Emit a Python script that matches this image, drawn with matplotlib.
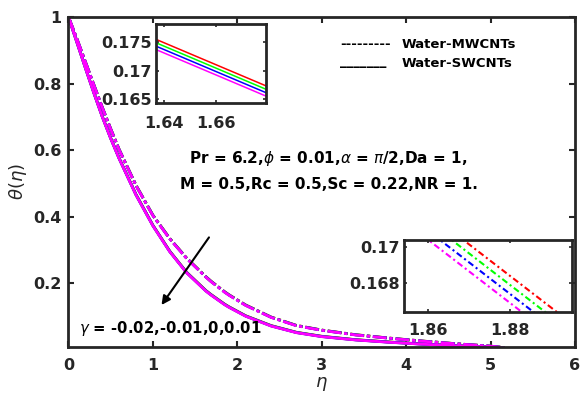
import numpy as np
import matplotlib
matplotlib.use('Agg')
import matplotlib.pyplot as plt

# eta grid (shared by all curves)
eta = [0, 0.1, 0.2, 0.3, 0.4, 0.5, 0.6, 0.8, 1.0, 1.2, 1.4, 1.63, 1.69, 1.85, 1.90,
       2.1, 2.4, 2.7, 3.0, 3.4, 3.8, 4.2, 4.6, 5.0, 5.15]

gammas = ['-0.02', '-0.01', '0', '0.01']
colors = ['#ff0000', '#00ff00', '#0000ff', '#ff00ff']

# Water-SWCNTs (solid)
sw_m002 = [1.0, 0.9241, 0.8476, 0.7728, 0.7012, 0.6360, 0.5755, 0.4662, 0.3737, 0.2957, 0.2322,
           0.17687, 0.16517, 0.1364, 0.1287, 0.1014, 0.0720, 0.0518, 0.0398, 0.0296, 0.0226,
           0.0164, 0.0114, 0.0082, 0.0052]
sw_m001 = [1.0, 0.9240, 0.8474, 0.7725, 0.7008, 0.6355, 0.5750, 0.4656, 0.3731, 0.2951, 0.2316,
           0.17627, 0.16457, 0.1358, 0.1281, 0.1009, 0.0715, 0.0514, 0.0394, 0.0293, 0.0223,
           0.0162, 0.0112, 0.0081, 0.0051]
sw_0 = [1.0, 0.9239, 0.8472, 0.7722, 0.7004, 0.6350, 0.5745, 0.4650, 0.3725, 0.2945, 0.2310,
        0.17567, 0.16397, 0.1352, 0.1275, 0.1004, 0.0710, 0.0510, 0.0390, 0.0290, 0.0220,
        0.0160, 0.0110, 0.0080, 0.0050]
sw_p001 = [1.0, 0.9238, 0.8470, 0.7719, 0.7000, 0.6345, 0.5740, 0.4644, 0.3719, 0.2939, 0.2304,
           0.17507, 0.16337, 0.1346, 0.1269, 0.0999, 0.0705, 0.0506, 0.0386, 0.0287, 0.0217,
           0.0158, 0.0108, 0.0079, 0.0049]

# Water-MWCNTs (dash-dot)
mw_m002 = [1.0, 0.9342, 0.8654, 0.7966, 0.7286, 0.6638, 0.6018, 0.4940, 0.4040, 0.3340, 0.2750,
           0.2185, 0.2052, 0.17366, 0.16489, 0.1338, 0.0977, 0.0726, 0.0586, 0.0446, 0.0344,
           0.0254, 0.0172, 0.0102, 0.0062]
mw_m001 = [1.0, 0.9341, 0.8652, 0.7963, 0.7283, 0.6634, 0.6014, 0.4935, 0.4035, 0.3335, 0.2745,
           0.2180, 0.2047, 0.17316, 0.16439, 0.1333, 0.0973, 0.0722, 0.0583, 0.0443, 0.0342,
           0.0252, 0.0171, 0.0101, 0.0061]
mw_0 = [1.0, 0.934, 0.865, 0.796, 0.728, 0.663, 0.601, 0.493, 0.403, 0.333, 0.274,
        0.2175, 0.2042, 0.17266, 0.16389, 0.1328, 0.0969, 0.0718, 0.0580, 0.0440, 0.0340,
        0.0250, 0.0170, 0.0100, 0.0060]
mw_p001 = [1.0, 0.9339, 0.8648, 0.7957, 0.7277, 0.6626, 0.6006, 0.4925, 0.4025, 0.3325, 0.2735,
           0.2170, 0.2037, 0.17216, 0.16339, 0.1323, 0.0965, 0.0714, 0.0577, 0.0437, 0.0338,
           0.0248, 0.0169, 0.0099, 0.0059]

solid = [sw_m002, sw_m001, sw_0, sw_p001]
dashed = [mw_m002, mw_m001, mw_0, mw_p001]

xticks_main = [0, 1, 2, 3, 4, 5, 6]
yticks_main = [0.2, 0.4, 0.6, 0.8, 1]

plt.rcParams['font.family'] = 'DejaVu Sans'
plt.rcParams['font.weight'] = 'normal'
plt.rcParams['mathtext.fontset'] = 'custom'
plt.rcParams['mathtext.it'] = 'DejaVu Sans:italic:normal'
plt.rcParams['mathtext.rm'] = 'DejaVu Sans:normal'
dark = '#262626'
mw_dash = (0, (5, 1, 1.2, 1))

fig = plt.figure(figsize=(5.8, 4.08), dpi=100)
ax = fig.add_axes([0.1181, 0.1495, 0.8733, 0.8088])

for ys, yd, c in zip(solid, dashed, colors):
    ax.plot(eta, ys, '-', color=c, lw=2)
    ax.plot(eta, yd, linestyle=mw_dash, color=c, lw=2)

ax.set_xlim(0, 6)
ax.set_ylim(0.0075, 1)
ax.set_xticks(xticks_main)
ax.set_yticks(yticks_main)
ax.set_xticklabels([str(v) for v in xticks_main])
ax.set_yticklabels(['0.2', '0.4', '0.6', '0.8', '1'])
ax.tick_params(direction='in', top=True, right=True, length=4, width=1.5,
               labelsize=11.5, colors=dark)
ax.tick_params(axis='x', pad=8)
ax.tick_params(axis='y', pad=5)
for s in ax.spines.values():
    s.set_linewidth(2)
    s.set_color(dark)
for lab in ax.get_xticklabels() + ax.get_yticklabels():
    lab.set_fontweight('bold')

ax.set_xlabel(r'$\eta$', fontsize=13, color=dark, labelpad=1)
ax.set_ylabel(r'$\theta(\eta)$', fontsize=13, color=dark, labelpad=3)

# text legend
ax.text(3.214, 0.906, '---------', fontsize=9.5, fontweight='bold', va='baseline')
ax.text(3.947, 0.906, 'Water-MWCNTs', fontsize=9.5, fontweight='bold', va='baseline')
ax.text(3.214, 0.855, '_______', fontsize=9.5, fontweight='bold', va='baseline')
ax.text(3.947, 0.849, 'Water-SWCNTs', fontsize=9.5, fontweight='bold', va='baseline')

ax.text(3.08, 0.575, r'Pr = 6.2,$\phi$ = 0.01,$\alpha$ = $\pi$/2,Da = 1,', fontsize=11,
        fontweight='bold', ha='center', va='center')
ax.text(3.08, 0.497, r'M = 0.5,Rc = 0.5,Sc = 0.22,NR = 1.', fontsize=11,
        fontweight='bold', ha='center', va='center')
ax.text(0.13, 0.064, r'$\gamma$ = -0.02,-0.01,0,0.01', fontsize=10.7,
        fontweight='bold', ha='left', va='center')

ax.annotate('', xy=(1.083, 0.127), xytext=(1.683, 0.344),
            arrowprops=dict(arrowstyle='-|>', color='k', lw=1.5, mutation_scale=13))

# inset 1 : SWCNTs
ins1 = fig.add_axes([0.269, 0.7475, 0.1897, 0.1936])
for ys, c in zip(solid, colors):
    ins1.plot(eta, ys, '-', color=c, lw=1.1)
ins1.set_xlim(1.637, 1.679)
ins1.set_ylim(0.1643, 0.1782)
ins1.set_xticks([1.64, 1.66])
ins1.set_xticklabels(['1.64', '1.66'])
ins1.set_yticks([0.165, 0.17, 0.175])
ins1.set_yticklabels(['0.165', '0.17', '0.175'])
ins1.tick_params(direction='in', top=True, right=True, length=2.5, width=1.2,
                 labelsize=11.5, colors=dark)
ins1.tick_params(axis='x', pad=9)
ins1.tick_params(axis='y', pad=3)

# inset 2 : MWCNTs
ins2 = fig.add_axes([0.6966, 0.2353, 0.2897, 0.1765])
for yd, c in zip(dashed, colors):
    ins2.plot(eta, yd, linestyle=(0, (3, 1.5, 1, 1.5)), color=c, lw=1.5)
ins2.set_xlim(1.8541, 1.8951)
ins2.set_ylim(0.1664, 0.1704)
ins2.set_xticks([1.86, 1.88])
ins2.set_xticklabels(['1.86', '1.88'])
ins2.set_yticks([0.168, 0.17])
ins2.set_yticklabels(['0.168', '0.17'])
ins2.tick_params(direction='in', top=True, right=True, length=2.5, width=1.2,
                 labelsize=11.5, colors=dark)
ins2.tick_params(axis='x', pad=8)
ins2.tick_params(axis='y', pad=3)

for a in (ins1, ins2):
    for s in a.spines.values():
        s.set_linewidth(2)
        s.set_color(dark)
    for lab in a.get_xticklabels() + a.get_yticklabels():
        lab.set_fontweight('bold')

fig.savefig('out.png', dpi=100)
